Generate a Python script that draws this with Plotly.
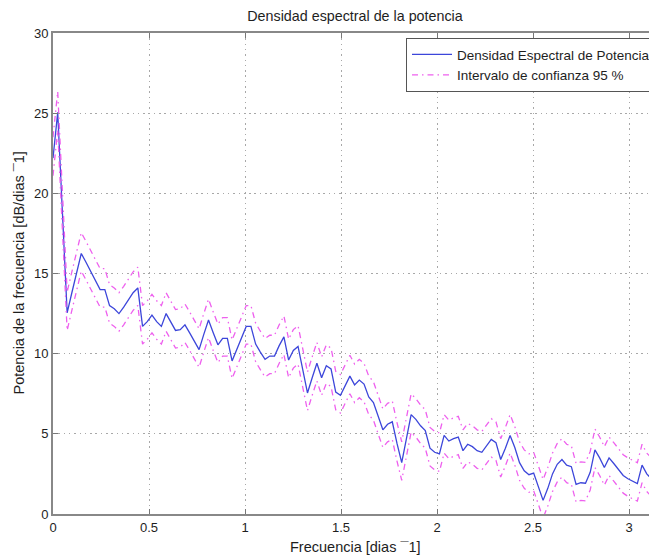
import numpy as np
import plotly.graph_objects as go

# Frequency grid: 128 bins from 0 to pi (days^-1)
n_bins = 128
freq = np.arange(n_bins) * np.pi / n_bins

# Power spectral density estimate [dB/day^-1]
psd_db = [
    22.2, 25.05, 18.8, 12.55, 13.8, 15.0, 16.25, 15.7, 15.1, 14.5,
    14.0, 14.0, 13.0, 12.8, 12.5, 12.9, 13.35, 13.8, 14.1, 11.7,
    12.0, 12.4, 12.0, 11.7, 12.5, 12.0, 11.45, 11.5, 11.8, 11.3,
    10.8, 10.25, 11.2, 12.1, 11.3, 10.55, 10.95, 10.95, 9.55, 10.3,
    11.0, 11.7, 11.7, 10.6, 10.1, 9.65, 9.85, 9.85, 10.5, 11.05,
    9.6, 10.2, 10.45, 9.0, 7.55, 8.5, 9.4, 8.5, 9.25, 9.05,
    7.6, 7.4, 8.0, 8.6, 8.05, 8.35, 8.1, 7.3, 6.95, 6.1,
    5.25, 5.6, 5.75, 4.4, 3.2, 4.7, 6.2, 5.9, 5.5, 5.2,
    4.1, 3.85, 3.75, 4.9, 4.55, 4.7, 4.8, 3.95, 4.35, 4.2,
    3.95, 3.85, 4.25, 4.65, 4.45, 3.4, 4.1, 4.9, 4.15, 3.2,
    2.7, 2.45, 2.55, 1.7, 0.85, 1.6, 2.5, 3.1, 3.4, 3.05,
    2.95, 1.85, 1.95, 1.92, 2.6, 4.0, 3.5, 2.9, 3.5, 3.15,
    2.75, 2.4, 2.2, 2.05, 1.9, 3.05, 2.5, 2.2,
]

# 95 % confidence bounds of the estimate, constant in dB
ci_upper_db = 1.3
ci_lower_db = -1.1
psd_arr = np.array(psd_db)
ci_upper = psd_arr + ci_upper_db
ci_lower = psd_arr + ci_lower_db

x_ticks = [0, 0.5, 1, 1.5, 2, 2.5, 3]
y_ticks = [0, 5, 10, 15, 20, 25, 30]

FONT = "Liberation Sans, Arial, Helvetica, sans-serif"
TEXT = "#1e1e1e"
W, H = 649, 556
L, R, T, B = 53, 0, 33, 42
PX_PER_UNIT = 192.0
x_max = (W - L - R) / PX_PER_UNIT
plot_w = W - L - R
plot_h = H - T - B

blue = "rgb(60,70,218)"
pink = "rgb(238,96,238)"
dash_dot = "6px,4px,1.5px,4px"

fig = go.Figure()
fig.add_trace(go.Scatter(
    x=freq, y=psd_db, mode="lines", name="Densidad Espectral de Potencia",
    line=dict(color=blue, width=1.3), showlegend=True,
))
fig.add_trace(go.Scatter(
    x=freq, y=ci_upper, mode="lines", name="Intervalo de confianza 95 %",
    line=dict(color=pink, width=1.3, dash=dash_dot), showlegend=True,
))
fig.add_trace(go.Scatter(
    x=freq, y=ci_lower, mode="lines", name="Intervalo de confianza 95 %",
    line=dict(color=pink, width=1.3, dash=dash_dot), showlegend=False,
))

axis_common = dict(
    showgrid=True, gridcolor="#a8a8a8", griddash="1.5px,3.8px", gridwidth=1,
    zeroline=False, showline=True, linecolor="#888888", linewidth=2,
    ticks="inside", ticklen=5, tickcolor="#777777", tickwidth=1,
    tickfont=dict(family=FONT, size=13, color=TEXT),
)

fig.update_layout(
    width=W, height=H,
    margin=dict(l=L, r=R, t=T, b=B, pad=0, autoexpand=False),
    paper_bgcolor="white", plot_bgcolor="white",
    font=dict(family=FONT, size=13, color=TEXT),
    title=dict(
        text="Densidad espectral de la potencia",
        x=355 / W, xref="container", xanchor="center",
        y=1 - 16 / H, yref="container", yanchor="middle",
        font=dict(family=FONT, size=14.3, color=TEXT),
    ),
    xaxis=dict(
        range=[0, x_max], tickvals=x_ticks, ticktext=[str(v) for v in x_ticks],
        mirror="ticks", **axis_common,
    ),
    yaxis=dict(
        range=[0, 30], tickvals=y_ticks, ticktext=[str(v) for v in y_ticks],
        mirror=False, **axis_common,
    ),
    legend=dict(
        x=(406 - L) / plot_w, y=(H - B - 38) / plot_h,
        xanchor="left", yanchor="top",
        bgcolor="white", bordercolor="#555555", borderwidth=1,
        font=dict(family=FONT, size=13.5, color=TEXT),
        itemwidth=40, tracegroupgap=0,
    ),
    showlegend=True,
    annotations=[
        dict(
            text="Frecuencia [dias ¯1]", xref="paper", yref="paper",
            x=(355 - L) / plot_w, y=-(547 - (H - B)) / plot_h,
            xanchor="center", yanchor="middle", showarrow=False,
            font=dict(family=FONT, size=14.5, color=TEXT),
        ),
        dict(
            text="Potencia de la frecuencia [dB/dias ¯1]", xref="paper", yref="paper",
            x=-(L - 18) / plot_w, y=0.5, textangle=-90,
            xanchor="center", yanchor="middle", showarrow=False,
            font=dict(family=FONT, size=14.5, color=TEXT),
        ),
    ],
)

fig.write_html("out.html")
